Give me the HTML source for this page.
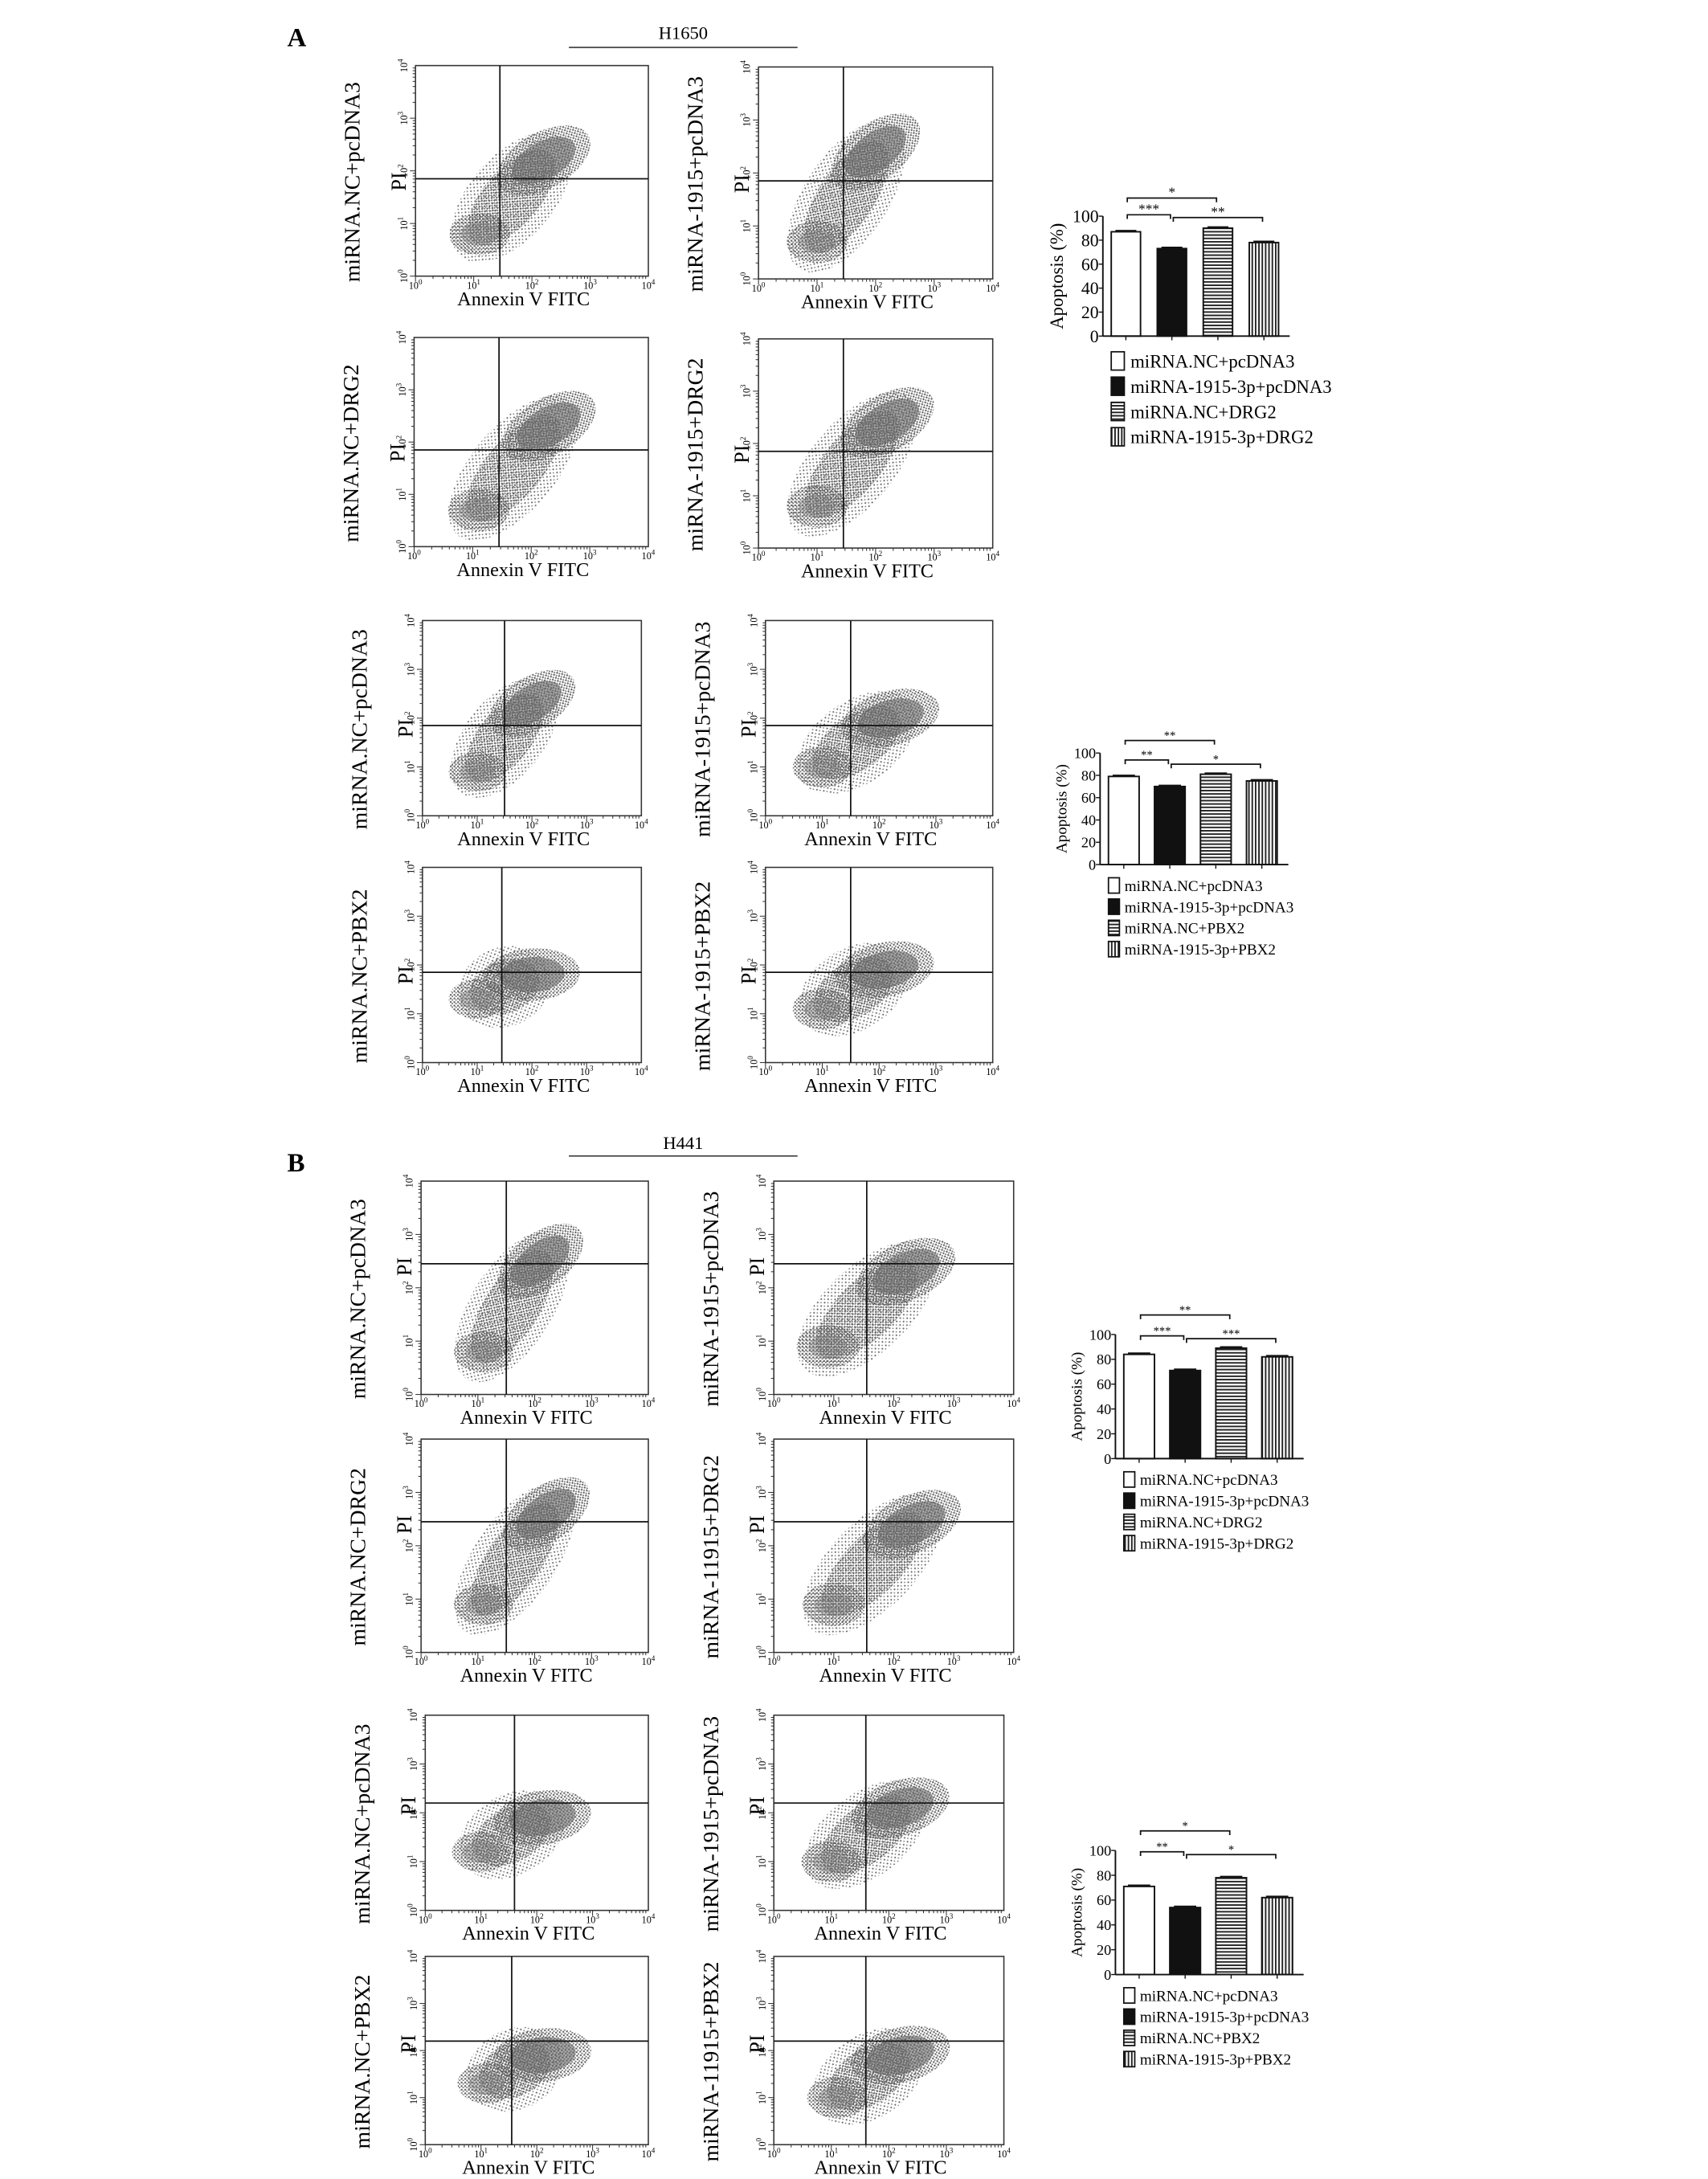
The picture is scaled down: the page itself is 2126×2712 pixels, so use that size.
<!DOCTYPE html>
<html><head><meta charset="utf-8">
<style>
html,body{margin:0;padding:0;background:#fff;}
svg{display:block;font-family:"Liberation Serif",serif;}
</style></head>
<body>
<svg id="fig" width="2126" height="2712" viewBox="0 0 1225 1562.6" xmlns="http://www.w3.org/2000/svg">
<defs>
<pattern id="dots" width="2.6" height="2.6" patternUnits="userSpaceOnUse">
<rect x="0.3" y="0.4" width="1.2" height="1.2" fill="#5e5e5e"/>
<rect x="1.6" y="1.6" width="1" height="1" fill="#707070"/>
</pattern>
<pattern id="dotsLight" width="3.5" height="3.5" patternUnits="userSpaceOnUse">
<rect x="0.5" y="0.5" width="1.1" height="1.1" fill="#6e6e6e"/>
<rect x="2.2" y="2.3" width="0.9" height="0.9" fill="#808080"/>
</pattern>
<pattern id="hstripe" width="4" height="2.4" patternUnits="userSpaceOnUse">
<rect width="4" height="2.4" fill="#fff"/><rect width="4" height="1.1" fill="#222"/>
</pattern>
<pattern id="vstripe" width="2.4" height="4" patternUnits="userSpaceOnUse">
<rect width="2.4" height="4" fill="#fff"/><rect width="1.1" height="4" fill="#222"/>
</pattern>
</defs>
<g id="root"></g>
</svg>
<script>
// ---- flow cytometry plots: sample labels and cloud centers (log10 units) ----
const flowLabels = ["miRNA.NC+pcDNA3","miRNA-1915+pcDNA3","miRNA.NC+DRG2","miRNA-1915+DRG2",
 "miRNA.NC+pcDNA3","miRNA-1915+pcDNA3","miRNA.NC+PBX2","miRNA-1915+PBX2",
 "miRNA.NC+pcDNA3","miRNA-1915+pcDNA3","miRNA.NC+DRG2","miRNA-11915+DRG2",
 "miRNA.NC+pcDNA3","miRNA-1915+pcDNA3","miRNA.NC+PBX2","miRNA-11915+PBX2"];
const lowCloudX = [1.1,1.0,1.1,1.0, 1.0,1.0,1.0,1.0, 1.1,0.9,1.1,1.0, 1.0,1.0,1.1,1.1];
const lowCloudY = [0.8,0.7,0.7,0.8, 0.9,1.0,1.3,1.1, 0.8,0.9,0.9,0.9, 1.2,1.0,1.3,1.0];
const highCloudX = [2.2,2.0,2.3,2.2, 2.0,2.2,2.0,2.1, 2.1,2.2,2.2,2.3, 2.1,2.2,2.1,2.2];
const highCloudY = [2.2,2.4,2.3,2.4, 2.3,2.0,1.8,1.9, 2.5,2.3,2.6,2.4, 1.9,2.1,1.9,1.9];
const gateX = [1.45,1.45,1.45,1.45, 1.5,1.5,1.45,1.5, 1.5,1.55,1.5,1.55, 1.6,1.6,1.55,1.6];
const gateY = [1.85,1.85,1.85,1.85, 1.85,1.85,1.85,1.85, 2.45,2.45,2.45,2.45, 2.2,2.2,2.2,2.2];
const decadeTicks = ["0","1","2","3","4"];

// ---- bar charts ----
const barGroupsA1 = ["miRNA.NC+pcDNA3","miRNA-1915-3p+pcDNA3","miRNA.NC+DRG2","miRNA-1915-3p+DRG2"];
const barGroupsA2 = ["miRNA.NC+pcDNA3","miRNA-1915-3p+pcDNA3","miRNA.NC+PBX2","miRNA-1915-3p+PBX2"];
const valuesA1 = [87,73,90,78];
const valuesA2 = [79,70,81,75];
const valuesB1 = [84,71,89,82];
const valuesB2 = [71,54,78,62];
const errorsA1 = [1,1,1,1];
const errorsA2 = [1,1,1,1];
const errorsB1 = [1,1,1,1];
const errorsB2 = [1,1,1,1];
const yTicks = [0,20,40,60,80,100];

const NS="http://www.w3.org/2000/svg";
const root=document.getElementById('root');
function mk(tag,attrs,parent){const e=document.createElementNS(NS,tag);for(const k in attrs)e.setAttribute(k,attrs[k]);(parent||root).appendChild(e);return e;}

function pow10Label(parent,x,y,exp,rot,size){
  const t=mk('text',{x:x,y:y,'font-size':size,'text-anchor':'middle',transform:rot?`rotate(-90 ${x} ${y})`:''},parent);
  t.appendChild(document.createTextNode('10'));
  const s=mk('tspan',{dy:-size*0.45,'font-size':size*0.75},t);s.textContent=exp;
  return t;
}

function flowPlot(i,x0,y0,x1,y1){
  const g=mk('g',{});
  
  
  const sx=v=>x0+(x1-x0)*v/4, sy=v=>y1-(y1-y0)*v/4;
  const lx=sx(lowCloudX[i]),ly=sy(lowCloudY[i]),hx=sx(highCloudX[i]),hy=sy(highCloudY[i]);
  const mx=(lx+hx)/2,my=(ly+hy)/2;
  const len=Math.hypot(hx-lx,hy-ly);
  const ang=Math.atan2(hy-ly,hx-lx)*180/Math.PI;
  const w=(x1-x0);
  const cloud=mk('g',{},g);
  
  
  mk('ellipse',{cx:mx,cy:my,rx:len*0.8,ry:w*0.18,transform:`rotate(${ang} ${mx} ${my})`,fill:'url(#dotsLight)'},cloud);
  mk('ellipse',{cx:mx,cy:my,rx:len*0.6,ry:w*0.12,transform:`rotate(${ang} ${mx} ${my})`,fill:'url(#dots)'},cloud);
  mk('ellipse',{cx:hx,cy:hy,rx:w*0.12,ry:w*0.22,transform:`rotate(${ang-70} ${hx} ${hy})`,fill:'url(#dots)'},cloud);
  mk('ellipse',{cx:hx,cy:hy,rx:w*0.08,ry:w*0.15,transform:`rotate(${ang-70} ${hx} ${hy})`,fill:'#6a6a6a',opacity:0.6},cloud);
  mk('ellipse',{cx:lx,cy:ly,rx:w*0.13,ry:w*0.09,fill:'url(#dots)'},cloud);
  mk('ellipse',{cx:lx,cy:ly,rx:w*0.08,ry:w*0.05,fill:'#7a7a7a',opacity:0.4},cloud);
  // frame
  mk('rect',{x:x0,y:y0,width:x1-x0,height:y1-y0,fill:'none',stroke:'#333','stroke-width':0.9},g);
  // gates
  const gv=mk('line',{x1:sx(gateX[i]),y1:y0,x2:sx(gateX[i]),y2:y1,stroke:'#111','stroke-width':1},g);
  
  const gh=mk('line',{x1:x0,y1:sy(gateY[i]),x2:x1,y2:sy(gateY[i]),stroke:'#111','stroke-width':1},g);
  
  // ticks
  for(let d=0;d<4;d++){for(let m=1;m<10;m++){const v=d+Math.log10(m);
    const tl=m===1?4:2;
    mk('line',{x1:sx(v),y1:y1,x2:sx(v),y2:y1+tl,stroke:'#333','stroke-width':0.6},g);
    mk('line',{x1:x0,y1:sy(v),x2:x0-tl,y2:sy(v),stroke:'#333','stroke-width':0.6},g);}}
  decadeTicks.forEach((e,k)=>{
    const t1=pow10Label(g,sx(k),y1+9,e,false,7);
    const t2=pow10Label(g,x0-6,sy(k),e,true,7);
  });
  const xt=mk('text',{x:(x0+x1)/2-6,y:y1+21,'font-size':14,'text-anchor':'middle'},g);xt.textContent='Annexin V FITC';
  
  const py=sy(gateY[i]);
  const pt=mk('text',{x:x0-7,y:py+2,'font-size':15,'text-anchor':'middle',transform:`rotate(-90 ${x0-7} ${py+2})`},g);pt.textContent='PI';
  
  const sxp=x0-40,syp=(y0+y1)/2+8;
  const sl=mk('text',{x:sxp,y:syp,'font-size':16,'text-anchor':'middle',transform:`rotate(-90 ${sxp} ${syp})`},g);sl.textContent=flowLabels[i];
  
}

const boxes=[[298,47,465,198],[544,48,712,200],[297,242,465,392],[544,243,712,393],
 [303,445,460,585],[549,445,712,585],[303,622,460,762],[549,622,712,762],
 [302,847,465,1000],[555,847,727,1000],[302,1032,465,1185],[555,1032,727,1185],
 [305,1230,465,1370],[555,1230,720,1370],[305,1403,465,1538],[555,1403,720,1538]];
boxes.forEach((b,i)=>flowPlot(i,b[0],b[1],b[2],b[3]));

function barChart(name,ax,y100,y0,bw,gap,values,errors,labels,fs,brackets){
  const g=mk('g',{});
  
  
  const sy=v=>y0-(y0-y100)*v/100;
  const fills=['#fff','#111','url(#hstripe)','url(#vstripe)'];
  const bx=k=>ax+6+k*(bw+gap);
  values.forEach((v,k)=>{
    const r=mk('rect',{x:bx(k),y:sy(v),width:bw,height:y0-sy(v),fill:fills[k],stroke:'#111','stroke-width':1.1},g);
    
    
    const e=errors[k];
    mk('line',{x1:bx(k)+bw/2,y1:sy(v+e),x2:bx(k)+bw/2,y2:sy(v),stroke:'#111','stroke-width':1},g);
    mk('line',{x1:bx(k)+3,y1:sy(v+e),x2:bx(k)+bw-3,y2:sy(v+e),stroke:'#111','stroke-width':1},g);
    mk('line',{x1:bx(k)+bw/2,y1:y0,x2:bx(k)+bw/2,y2:y0+3,stroke:'#111','stroke-width':0.8},g);
  });
  mk('line',{x1:ax,y1:y100,x2:ax,y2:y0,stroke:'#111','stroke-width':1.1},g);
  mk('line',{x1:ax,y1:y0,x2:bx(3)+bw+8,y2:y0,stroke:'#111','stroke-width':1.1},g);
  yTicks.forEach(t=>{
    mk('line',{x1:ax-3,y1:sy(t),x2:ax,y2:sy(t),stroke:'#111','stroke-width':0.8},g);
    const tx=mk('text',{x:ax-3,y:sy(t)+fs*0.35,'font-size':fs,'text-anchor':'end'},g);tx.textContent=t;
    
  });
  const yl=ax-fs*2.3, ym=(y0+y100)/2;
  const yt=mk('text',{x:yl,y:ym,'font-size':fs*1.05,'text-anchor':'middle',transform:`rotate(-90 ${yl} ${ym})`},g);yt.textContent='Apoptosis (%)';
  
  brackets.forEach(br=>{
    const xa=bx(br[0])+bw/2, xb=bx(br[1])+bw/2, yy=br[2];
    mk('path',{d:`M${xa+1},${yy+3}V${yy}H${xb-1}V${yy+3}`,fill:'none',stroke:'#111','stroke-width':1},g);
    const st=mk('text',{x:(xa+xb)/2,y:yy-1,'font-size':fs*0.8,'text-anchor':'middle'},g);st.textContent=br[3];
    
  });
  const lstep=fs*1.45;
  labels.forEach((l,k)=>{
    const ly=y0+fs*0.9+k*lstep;
    const sw=mk('rect',{x:ax+6,y:ly,width:fs*0.75,height:fs*1.05,fill:fills[k],stroke:'#111','stroke-width':1},g);
    
    const lt=mk('text',{x:ax+6+fs*1.1,y:ly+fs*0.9,'font-size':fs*1.05},g);lt.textContent=l;
    
  });
}
barChart('bar-chart-a-drg2',791,155,241,21,12,valuesA1,errorsA1,barGroupsA1,12.5,[[0,2,142,'*'],[0,1,154,'***'],[1,3,156,'**']]);
barChart('bar-chart-a-pbx2',789,540,620,22,11,valuesA2,errorsA2,barGroupsA2,10.5,[[0,2,531,'**'],[0,1,545,'**'],[1,3,548,'*']]);
barChart('bar-chart-b-drg2',800,957,1046,22,11,valuesB1,errorsB1,barGroupsA1,10.5,[[0,2,943,'**'],[0,1,958,'***'],[1,3,960,'***']]);
barChart('bar-chart-b-pbx2',800,1327,1416,22,11,valuesB2,errorsB2,barGroupsA2,10.5,[[0,2,1313,'*'],[0,1,1328,'**'],[1,3,1330,'*']]);

// panel labels and cell-line headers
function txt(name,x,y,s,size,bold,anchor){const t=mk('text',{x:x,y:y,'font-size':size,'font-weight':bold?'bold':'normal','text-anchor':anchor||'start'});t.textContent=s;
 return t;}
txt('panel-label-a',206,33,'A',19,true);
txt('cell-line-title-h1650',490,28,'H1650',13,false,'middle');
mk('line',{x1:408,y1:34,x2:572,y2:34,stroke:'#444','stroke-width':1});
txt('panel-label-b',206,840,'B',19,true);
txt('cell-line-title-h441',490,824,'H441',13,false,'middle');
mk('line',{x1:408,y1:829,x2:572,y2:829,stroke:'#444','stroke-width':1});
</script>
</body></html>
